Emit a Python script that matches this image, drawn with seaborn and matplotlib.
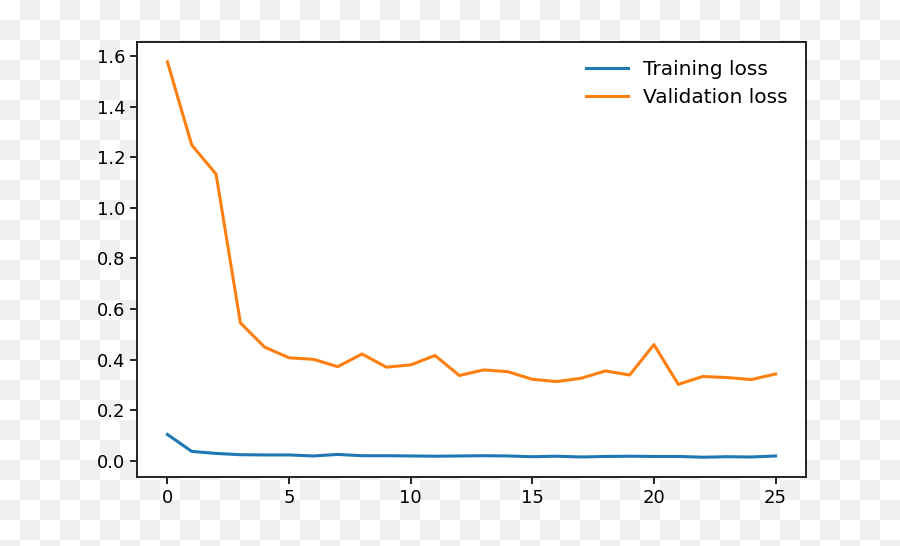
import numpy as np
import pandas as pd
import matplotlib
matplotlib.use("Agg")
import matplotlib.pyplot as plt
import seaborn as sns

epochs = list(range(26))
training_loss = [0.104, 0.037, 0.029, 0.024, 0.023, 0.023, 0.019, 0.025, 0.020, 0.020,
                 0.019, 0.018, 0.019, 0.020, 0.019, 0.016, 0.018, 0.015, 0.017, 0.018,
                 0.017, 0.017, 0.014, 0.016, 0.015, 0.019]
validation_loss = [1.577, 1.248, 1.133, 0.545, 0.449, 0.407, 0.401, 0.372, 0.422, 0.370,
                   0.379, 0.416, 0.337, 0.359, 0.352, 0.322, 0.313, 0.326, 0.355, 0.339,
                   0.459, 0.302, 0.333, 0.329, 0.321, 0.343]
series_names = ["Training loss", "Validation loss"]
colors = ["#1f77b4", "#ff7f0e"]

df = pd.DataFrame({
    "epoch": epochs * 2,
    "loss": training_loss + validation_loss,
    "series": [series_names[0]] * len(epochs) + [series_names[1]] * len(epochs),
})

plt.rcParams["font.family"] = ["DejaVu Sans"]
plt.rcParams["font.size"] = 13

W, H = 900, 546
fig = plt.figure(figsize=(W / 100, H / 100), dpi=100)
fig.patch.set_alpha(0)

# transparent-background checkerboard
yy, xx = np.mgrid[0:H, 0:W]
mask = ((yy // 20) + (xx // 20)) % 2 == 1
board = np.ones((H, W, 3))
board[mask] = 240 / 255
fig.figimage(board, 0, 0, zorder=-5)

ax = fig.add_axes([137 / W, 1 - 477 / H, (806 - 137) / W, (477 - 42) / H])
ax.set_facecolor("white")

sns.lineplot(data=df, x="epoch", y="loss", hue="series", palette=colors,
             linewidth=2.2, ax=ax)

ax.set_xlabel("")
ax.set_ylabel("")
ax.set_xticks([0, 5, 10, 15, 20, 25])
ax.set_yticks([0.0, 0.2, 0.4, 0.6, 0.8, 1.0, 1.2, 1.4, 1.6])
ax.set_yticklabels([f"{v:.1f}" for v in ax.get_yticks()])
for s in ax.spines.values():
    s.set_linewidth(1.4)
    s.set_color("#222222")
ax.tick_params(length=5, width=1.4, labelsize=13, colors="#222222", labelcolor="black")

leg = ax.legend(frameon=False, loc="upper right", fontsize=14.5,
                handlelength=2.1, handletextpad=0.75, labelspacing=0.45,
                borderaxespad=0.5)

fig.savefig("out.png", dpi=100)
